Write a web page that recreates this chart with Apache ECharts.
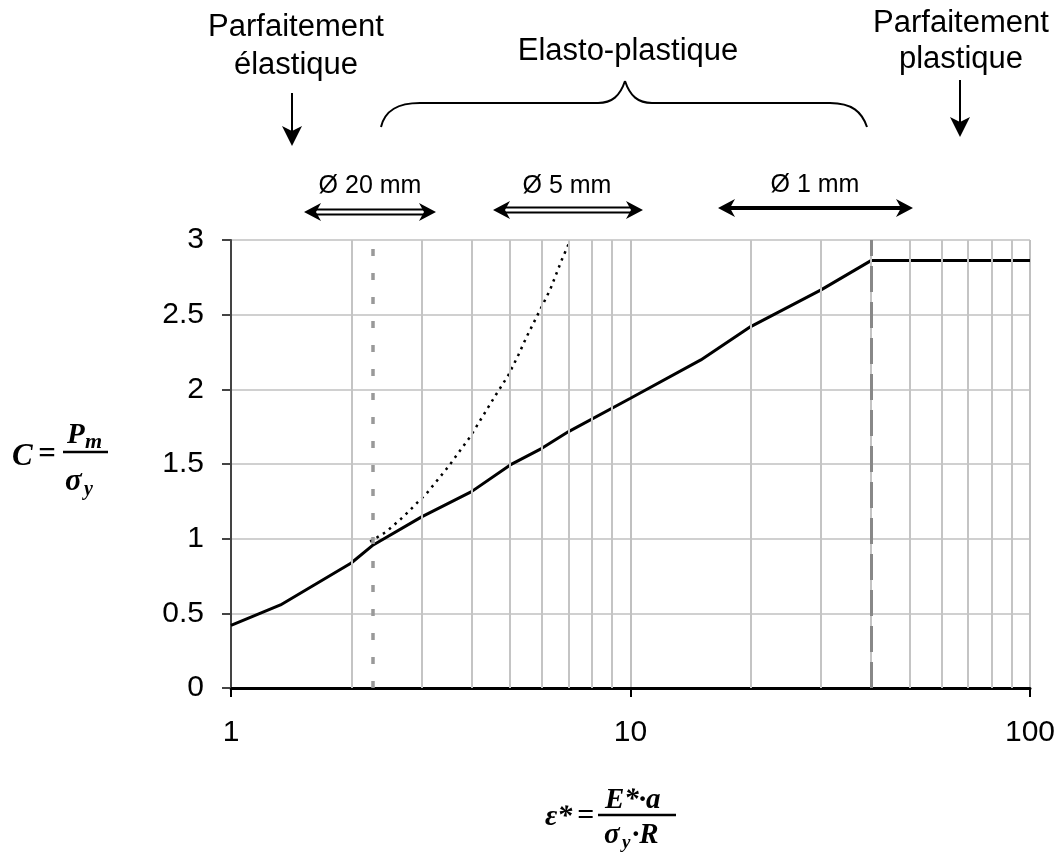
<!DOCTYPE html>
<html>
<head>
<meta charset="utf-8">
<script src="https://cdn.jsdelivr.net/npm/echarts@6/dist/echarts.min.js"></script>
<style>
  html, body { margin: 0; padding: 0; background: #fff; }
  #chart { width: 1058px; height: 852px; }
</style>
</head>
<body>
<div id="chart"></div>
<script>
// courbe principale (trait plein)
var mainX = [1, 1.33, 2, 2.27, 3, 4, 5, 6, 7, 10, 15, 20, 30, 40, 100];
var mainY = [0.42, 0.556, 0.837, 0.958, 1.146, 1.315, 1.494, 1.605, 1.717, 1.94, 2.197, 2.42, 2.666, 2.862, 2.862];
// courbe pointillée
var dotX = [2.23, 2.45, 2.7, 3.09, 3.5, 3.97, 4.6, 4.95, 5.24, 5.5, 5.94, 6.29, 6.73, 7.02];
var dotY = [0.98, 1.047, 1.147, 1.304, 1.482, 1.683, 1.962, 2.096, 2.23, 2.353, 2.532, 2.666, 2.867, 2.98];
// limites verticales
var limitElastic = 2.27;
var limitPlastic = 40;
// lignes de grille secondaires (échelle log)
var minorX = [2, 3, 4, 5, 6, 7, 8, 9, 20, 30, 40, 50, 60, 70, 80, 90];

function pairs(xs, ys) {
  return xs.map(function (x, i) { return [x, ys[i]]; });
}

var chart = echarts.init(document.getElementById('chart'));

var sans = 'Liberation Sans, Arial, sans-serif';
var serif = 'Liberation Serif, Times New Roman, serif';

function arrowHeads(x0, x1, y) {
  return [
    { type: 'polygon', shape: { points: [[x0, y], [x0 + 17, y - 9], [x0 + 12, y], [x0 + 17, y + 9]] }, style: { fill: '#000' } },
    { type: 'polygon', shape: { points: [[x1, y], [x1 - 17, y - 9], [x1 - 12, y], [x1 - 17, y + 9]] }, style: { fill: '#000' } }
  ];
}
function hollowArrow(x0, x1, y) {
  return [
    { type: 'line', shape: { x1: x0 + 8, y1: y - 2.5, x2: x1 - 8, y2: y - 2.5 }, style: { stroke: '#000', lineWidth: 2 } },
    { type: 'line', shape: { x1: x0 + 8, y1: y + 2.5, x2: x1 - 8, y2: y + 2.5 }, style: { stroke: '#000', lineWidth: 2 } }
  ].concat(arrowHeads(x0, x1, y));
}
function solidArrow(x0, x1, y) {
  return [
    { type: 'line', shape: { x1: x0 + 8, y1: y, x2: x1 - 8, y2: y }, style: { stroke: '#000', lineWidth: 4 } }
  ].concat(arrowHeads(x0, x1, y));
}
function downArrow(x, y0, y1) {
  return [
    { type: 'line', shape: { x1: x, y1: y0, x2: x, y2: y1 - 12 }, style: { stroke: '#000', lineWidth: 2 } },
    { type: 'polygon', shape: { points: [[x, y1], [x - 10, y1 - 20], [x, y1 - 15], [x + 10, y1 - 20]] }, style: { fill: '#000' } }
  ];
}
function txt(x, y, s, size, opts) {
  var st = { text: s, x: x, y: y, fill: '#000', font: (opts && opts.font) || (size + 'px ' + sans),
    align: (opts && opts.align) || 'center', verticalAlign: (opts && opts.va) || 'middle',
    lineHeight: (opts && opts.lh) || size };
  return { type: 'text', style: st };
}
function mathTxt(x, y, s, size) {
  return txt(x, y, s, size, { font: 'italic bold ' + size + 'px ' + serif, align: 'left' });
}
function curve(p, c1, c2, q) {
  return { type: 'bezierCurve',
    shape: { x1: p[0], y1: p[1], cpx1: c1[0], cpy1: c1[1], cpx2: c2[0], cpy2: c2[1], x2: q[0], y2: q[1] },
    style: { stroke: '#000', lineWidth: 2, fill: null } };
}
function seg(x1, y1, x2, y2, w) {
  return { type: 'line', shape: { x1: x1, y1: y1, x2: x2, y2: y2 }, style: { stroke: '#000', lineWidth: w || 2 } };
}

var graphics = []
  .concat([
    txt(296, 8, 'Parfaitement\nélastique', 31, { va: 'top', lh: 38 }),
    txt(628, 51, 'Elasto-plastique', 31),
    txt(961, 5, 'Parfaitement\nplastique', 31, { va: 'top', lh: 36 }),
    txt(370, 186, 'Ø 20 mm', 25),
    txt(567, 186, 'Ø 5 mm', 25),
    txt(815, 185, 'Ø 1 mm', 25)
  ])
  .concat(downArrow(292, 93, 146))
  .concat(downArrow(960, 80, 137))
  .concat([
    // accolade
    curve([381, 127], [385, 110], [398, 103], [420, 103]),
    seg(420, 103, 598, 103),
    curve([598, 103], [612, 103], [620, 96], [625, 81]),
    curve([625, 81], [630, 96], [638, 103], [652, 103]),
    seg(652, 103, 830, 103),
    curve([830, 103], [852, 103], [862, 112], [867, 127])
  ])
  .concat(hollowArrow(304, 436, 212))
  .concat(hollowArrow(493, 643, 210))
  .concat(solidArrow(718, 913, 208))
  .concat([
    // C = Pm / σy
    mathTxt(12, 457, 'C', 31),
    mathTxt(38, 455, '=', 31),
    mathTxt(67, 436, 'P', 29),
    mathTxt(85, 442, 'm', 22),
    seg(63, 452, 108, 452, 2.5),
    mathTxt(65, 482, 'σ', 31),
    mathTxt(84, 490, 'y', 20),
    // ε* = E*·a / σy·R
    mathTxt(545, 817, 'ε*', 30),
    mathTxt(577, 816, '=', 30),
    mathTxt(605, 801, 'E*·a', 29),
    seg(598, 815, 676, 815, 2.5),
    mathTxt(604, 836, 'σ', 29),
    mathTxt(622, 843, 'y', 19),
    mathTxt(632, 836, '·R', 29)
  ]);

var option = {
  animation: false,
  backgroundColor: '#fff',
  grid: { left: 231, right: 28, top: 240, bottom: 164 },
  xAxis: {
    type: 'log',
    logBase: 10,
    min: 1,
    max: 100,
    axisLine: { show: true, onZero: false, lineStyle: { color: '#000', width: 3 } },
    axisTick: { show: true, inside: false, length: 9, lineStyle: { color: '#000', width: 2 } },
    minorTick: { show: false },
    axisLabel: { color: '#000', fontSize: 30, fontFamily: sans, margin: 30 },
    splitLine: { show: true, lineStyle: { color: '#c0c0c0', width: 2 } }
  },
  yAxis: {
    type: 'value',
    min: 0,
    max: 3,
    interval: 0.5,
    axisLine: { show: true, lineStyle: { color: '#444', width: 2 } },
    axisTick: { show: true, inside: false, length: 9, lineStyle: { color: '#444', width: 2 } },
    axisLabel: { color: '#000', fontSize: 30, fontFamily: sans, margin: 27 },
    splitLine: { show: true, lineStyle: { color: '#c0c0c0', width: 1.5 } }
  },
  graphic: graphics,
  series: [
    {
      name: 'grille',
      type: 'line',
      data: [],
      z: 1,
      markLine: {
        silent: true,
        symbol: 'none',
        animation: false,
        label: { show: false },
        lineStyle: { color: '#c4c4c4', width: 2, type: 'solid' },
        data: minorX.map(function (v) { return { xAxis: v }; })
      }
    },
    {
      name: 'limites',
      type: 'line',
      data: [],
      z: 2,
      markLine: {
        silent: true,
        symbol: 'none',
        animation: false,
        label: { show: false },
        data: [
          { xAxis: limitElastic, lineStyle: { color: '#999', width: 3.5, type: [7, 17] } },
          { xAxis: limitPlastic, lineStyle: { color: '#888', width: 3, type: [26, 10] } }
        ]
      }
    },
    {
      name: 'pointillé',
      type: 'line',
      data: pairs(dotX, dotY),
      z: 3,
      symbol: 'none',
      lineStyle: { color: '#000', width: 2.5, type: [2.5, 5] }
    },
    {
      name: 'C',
      type: 'line',
      data: pairs(mainX, mainY),
      z: 4,
      symbol: 'none',
      lineStyle: { color: '#000', width: 3 }
    }
  ]
};

chart.setOption(option);
</script>
</body>
</html>
